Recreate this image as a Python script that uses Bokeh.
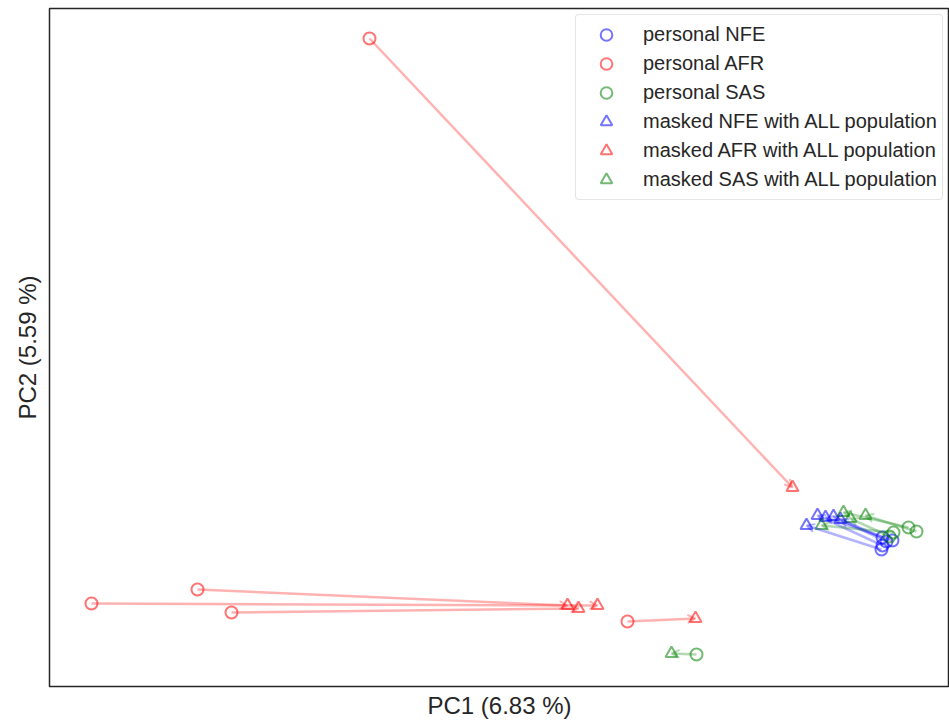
from bokeh.plotting import figure
from bokeh.models import Range1d, FixedTicker, Arrow, OpenHead
from bokeh.embed import file_html
from bokeh.resources import INLINE

# PCA coordinates (arbitrary units; no ticks shown)
nfe_personal_x = [832, 833, 843, 833, 837]
nfe_personal_y = [137, 141, 146, 149, 145]
nfe_masked_x = [757, 768, 776, 784, 791]
nfe_masked_y = [161, 171, 169, 170, 167]

afr_personal_x = [320, 42, 148, 182, 578]
afr_personal_y = [648, 83, 97, 74, 65]
afr_masked_x = [743, 548, 518, 529, 646]
afr_masked_y = [199, 81, 81, 78, 68]

sas_personal_x = [859, 867, 844, 840, 647]
sas_personal_y = [159, 155, 154, 150, 32]
sas_masked_x = [794, 816, 772, 801, 622]
sas_masked_y = [174, 171, 161, 168, 33]

x_label = "PC1 (6.83 %)"
y_label = "PC2 (5.59 %)"

FONT = "Liberation Sans"
groups = [
    ("NFE", "#0000ff", nfe_personal_x, nfe_personal_y, nfe_masked_x, nfe_masked_y),
    ("AFR", "#ff0000", afr_personal_x, afr_personal_y, afr_masked_x, afr_masked_y),
    ("SAS", "#008000", sas_personal_x, sas_personal_y, sas_masked_x, sas_masked_y),
]

p = figure(width=949, height=723, output_backend="svg", toolbar_location=None,
           x_range=Range1d(0, 900), y_range=Range1d(0, 678),
           min_border_left=49, min_border_right=0, min_border_top=8, min_border_bottom=37)
p.background_fill_color = "white"
p.border_fill_color = "white"
p.outline_line_color = "#262626"
p.outline_line_width = 1.5
p.xgrid.visible = False
p.ygrid.visible = False

for ax in (p.xaxis, p.yaxis):
    ax.ticker = FixedTicker(ticks=[])
    ax.major_tick_line_color = None
    ax.minor_tick_line_color = None
    ax.axis_line_color = None
    ax.major_label_text_font_size = "0px"
    ax.major_tick_out = 0
    ax.major_label_standoff = 0
    ax.axis_label_text_font = FONT
    ax.axis_label_text_font_size = "24px"
    ax.axis_label_text_font_style = "normal"
    ax.axis_label_text_color = "#262626"
p.xaxis.axis_label = x_label
p.yaxis.axis_label = y_label
p.xaxis.axis_label_standoff = 5
p.yaxis.axis_label_standoff = 9

# arrows personal -> masked
for name, col, px, py, mx, my in groups:
    for x0, y0, x1, y1 in zip(px, py, mx, my):
        p.add_layout(Arrow(x_start=x0, y_start=y0, x_end=x1, y_end=y1,
                           line_color=col, line_alpha=0.3, line_width=2.5,
                           end=OpenHead(size=8, line_color=col, line_alpha=0.3, line_width=2)))

for name, col, px, py, mx, my in groups:
    p.scatter(px, py, marker="circle", size=12, fill_color=None, line_color=col,
              line_alpha=0.55, line_width=2, legend_label=f"personal {name}")
for name, col, px, py, mx, my in groups:
    p.scatter(mx, my, marker="triangle", size=12, fill_color=None, line_color=col,
              line_alpha=0.55, line_width=2, legend_label=f"masked {name} with ALL population")

lg = p.legend[0]
lg.location = (526, 486)
lg.label_text_font = FONT
lg.label_text_font_size = "20px"
lg.label_text_color = "#262626"
lg.glyph_width = 50
lg.glyph_height = 29
lg.label_height = 29
lg.spacing = 0
lg.padding = 5
lg.label_standoff = 12
lg.margin = 0
lg.border_line_color = "#cccccc"
lg.border_line_width = 1.5
lg.border_radius = 4
lg.background_fill_alpha = 0.8

open("out.html", "w").write(file_html(p, INLINE))
